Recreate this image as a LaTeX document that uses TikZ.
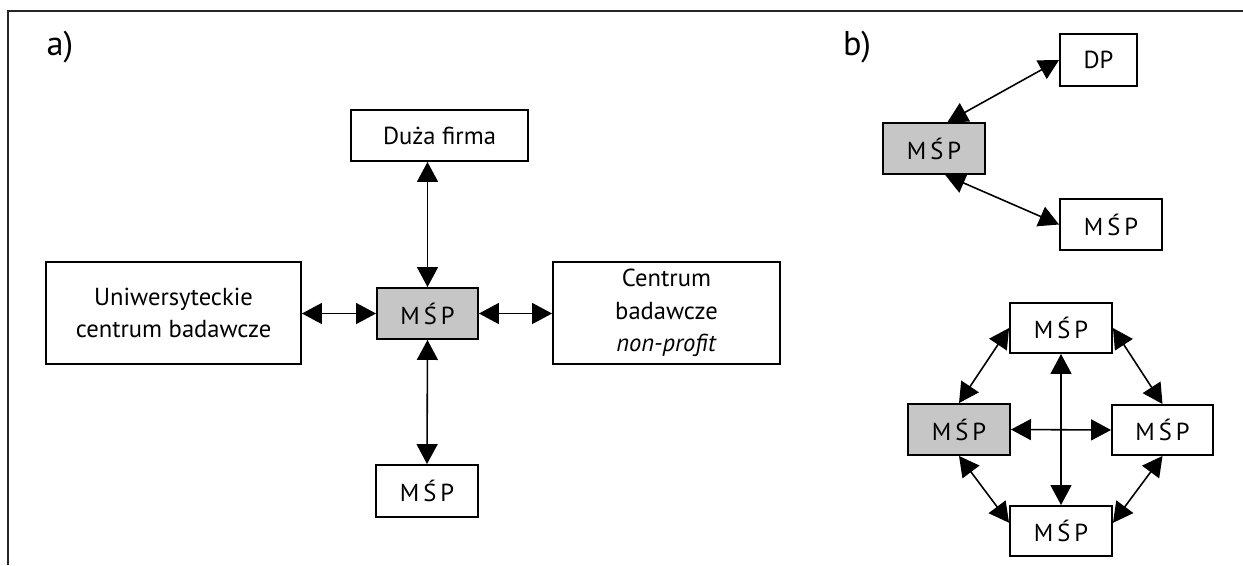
\documentclass[tikz,border=0pt]{standalone}
\usepackage{fontspec}
\setmainfont{PT Sans}
\usetikzlibrary{arrows.meta}
\definecolor{mspgray}{RGB}{198,198,198}
\tikzset{
  box/.style={draw=black, line width=1.1pt, fill=white, align=center, inner sep=0pt,
    font=\fontsize{14}{18.5}\selectfont},
  graybox/.style={box, fill=mspgray},
  dub/.style={line width=0.9pt, {Triangle[length=0.4cm,width=0.42cm]}-{Triangle[length=0.4cm,width=0.42cm]}},
  lbl/.style={font=\fontsize{19.5}{22}\selectfont}
}
\newcommand\msp{M\,Ś\,P}
\begin{document}
\begin{tikzpicture}[x=0.02cm,y=-0.02cm]
\useasboundingbox (0,0) rectangle (1243,565);
\draw[line width=0.85pt, draw=black!85] (8,565) -- (8,11) -- (1243,11);
\node[lbl] (la) at (60,47) {a)};
\node[lbl] (lb) at (857,47) {b)};
\node[box, minimum width=3.54cm, minimum height=1.02cm] (duza) at (439.5,135.5) {Duża firma};
\node[graybox, minimum width=2.02cm, minimum height=1.02cm] (msp) at (427.5,313.5) {\msp};
\node[box, minimum width=5.1cm, minimum height=2.04cm] (uni) at (173.5,313) {Uniwersyteckie\\centrum badawcze};
\node[box, minimum width=4.54cm, minimum height=2.04cm] (cent) at (666.5,313) {Centrum\\badawcze\\\textit{non-profit}};
\node[box, minimum width=2.04cm, minimum height=1.04cm] (mspd) at (427,491) {\msp};
\draw[dub] (msp.north) -- (msp.north |- duza.south);
\draw[dub] (msp.south) -- (mspd.north);
\draw[dub] (uni.east |- msp.west) -- (msp.west);
\draw[dub] (msp.east) -- (cent.west |- msp.east);
\node[box, minimum width=1.54cm, minimum height=1.04cm] (dp) at (1098.5,60) {DP};
\node[graybox, minimum width=2.04cm, minimum height=1.02cm] (mspc) at (934,148.5) {\msp};
\node[box, minimum width=2.04cm, minimum height=1.02cm] (mspe) at (1111,224.5) {\msp};
\draw[dub] (mspc.63) -- (dp.west);
\draw[dub] (mspc.293) -- (mspe.west);
\node[box, minimum width=2.04cm, minimum height=1.0cm] (mspt) at (1061,328) {\msp};
\node[graybox, minimum width=2.04cm, minimum height=1.02cm] (mspl) at (959,429.5) {\msp};
\node[box, minimum width=2.02cm, minimum height=1.0cm] (mspr) at (1162.5,430) {\msp};
\node[box, minimum width=2.04cm, minimum height=1.0cm] (mspb) at (1061,531) {\msp};
\draw[dub] (mspt.south) -- (mspb.north);
\draw[dub] (mspl.east) -- (mspr.west);
\draw[dub] (mspt.west) -- (mspl.north);
\draw[dub] (mspt.east) -- (mspr.north);
\draw[dub] (mspl.south) -- (mspb.171);
\draw[dub] (mspr.south) -- (mspb.9);
\end{tikzpicture}
\end{document}
